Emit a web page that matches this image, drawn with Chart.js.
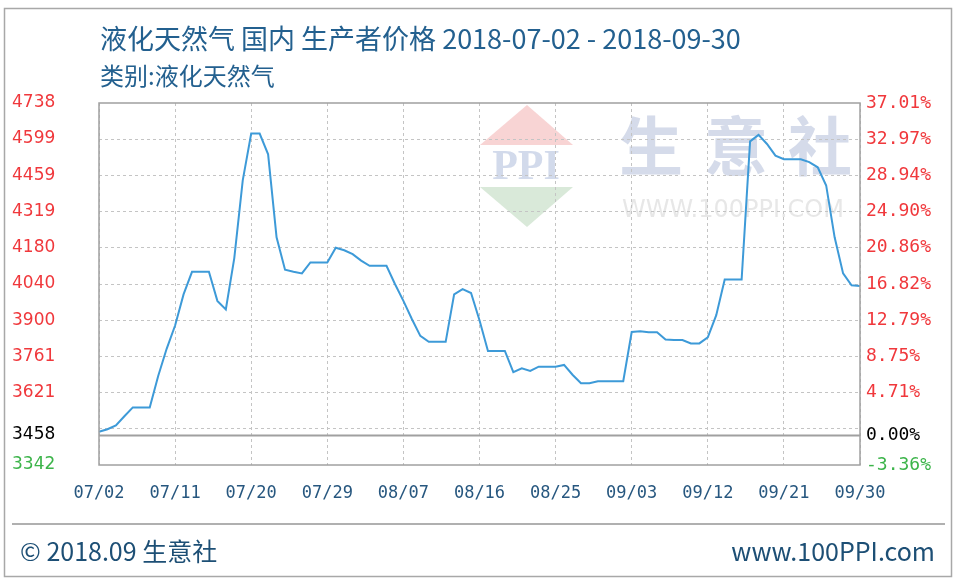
<!DOCTYPE html>
<html>
<head>
<meta charset="utf-8">
<script src="https://cdn.jsdelivr.net/npm/chart.js@4"></script>
<style>
  html, body { margin: 0; padding: 0; background: #fff; }
  canvas { display: block; }
</style>
</head>
<body>
<canvas id="lng-chart" width="956" height="581"></canvas>
<script>
// daily LNG producer price, 2018-07-02 .. 2018-09-30
var prices = [
  3470, 3480, 3495, 3530, 3564, 3564, 3564, 3685, 3790, 3880,
  4000, 4087, 4087, 4087, 3975, 3942, 4140, 4440, 4620, 4620,
  4540, 4220, 4095, 4087, 4081, 4123, 4123, 4123, 4180, 4170,
  4155, 4130, 4110, 4110, 4110, 4040, 3975, 3905, 3840, 3817,
  3817, 3817, 4000, 4020, 4005, 3900, 3782, 3782, 3782, 3700,
  3715, 3705, 3721, 3721, 3721, 3728, 3690, 3657, 3657, 3665,
  3665, 3665, 3665, 3855, 3858, 3854, 3854, 3826, 3824, 3824,
  3811, 3811, 3834, 3920, 4057, 4057, 4057, 4590, 4615, 4580,
  4535, 4521, 4521, 4521, 4510, 4490, 4420, 4220, 4081, 4035,
  4032
];

var x_tick_labels = ["07/02", "07/11", "07/20", "07/29", "08/07", "08/16",
  "08/25", "09/03", "09/12", "09/21", "09/30"];

var y_tick_values = [3342, 3458, 3482, 3621, 3761, 3900, 4040, 4180, 4319, 4459, 4599, 4738];
var y_tick_labels = ["3342", "3458", "", "3621", "3761", "3900", "4040", "4180", "4319", "4459", "4599", "4738"];
var pct_tick_labels = ["-3.36%", "0.00%", "", "4.71%", "8.75%", "12.79%", "16.82%", "20.86%",
  "24.90%", "28.94%", "32.97%", "37.01%"];

var base_price = 3458;
var y_min = 3342;
var y_max = 4738;

// one label per day
var dates = [];
var d0 = new Date(2018, 6, 2);
for (var i = 0; i < prices.length; i++) {
  var d = new Date(d0.getFullYear(), d0.getMonth(), d0.getDate() + i);
  dates.push(("0" + (d.getMonth() + 1)).slice(-2) + "/" + ("0" + d.getDate()).slice(-2));
}

var cjk = '"Noto Sans CJK SC", "Noto Sans", sans-serif';

function tick_color(ctx) {
  if (ctx.tick.value === base_price) return "#000000";
  if (ctx.tick.value === y_min) return "#3cb44a";
  return "#f0383c";
}

var decor = {
  id: "decor",
  beforeDraw(chart) {
    var c = chart.ctx;
    c.save();
    c.fillStyle = "#ffffff";
    c.fillRect(0, 0, chart.width, chart.height);

    // watermark
    c.fillStyle = "rgba(240,160,160,0.45)";
    c.beginPath(); c.moveTo(527, 105); c.lineTo(573, 145); c.lineTo(480, 145); c.closePath(); c.fill();
    c.fillStyle = "rgba(160,200,160,0.4)";
    c.beginPath(); c.moveTo(480, 187); c.lineTo(573, 187); c.lineTo(527, 227); c.closePath(); c.fill();
    c.fillStyle = "rgba(165,182,215,0.5)";
    c.font = "bold 42px 'Liberation Serif', serif";
    c.textAlign = "center"; c.textBaseline = "middle";
    c.fillText("PPI", 526, 168);
    c.fillStyle = "rgba(185,195,220,0.6)";
    c.font = "bold 64px " + cjk;
    c.fillText("生", 651, 146);
    c.fillText("意", 736, 146);
    c.fillText("社", 820, 146);
    c.fillStyle = "rgba(215,215,215,0.6)";
    c.font = "24px 'DejaVu Sans'";
    c.fillText("WWW.100PPI.COM", 733, 211);

    // outer frame
    c.strokeStyle = "#a8a8a8";
    c.lineWidth = 1.5;
    c.strokeRect(4.5, 8.5, 947, 568);

    // titles
    c.textAlign = "left";
    c.fillStyle = "#23608f";
    c.font = "27px " + cjk;
    c.fillText("液化天然气 国内 生产者价格 2018-07-02 - 2018-09-30", 100, 39);
    c.font = "24px " + cjk;
    c.fillText("类别:液化天然气", 100, 76);

    // footer
    c.strokeStyle = "#b0b0b0";
    c.lineWidth = 2;
    c.beginPath(); c.moveTo(12, 524); c.lineTo(945, 524); c.stroke();
    c.fillStyle = "#1d4f75";
    c.font = "25px " + cjk;
    c.fillText("© 2018.09 生意社", 20, 551);
    c.textAlign = "right";
    c.fillText("www.100PPI.com", 935, 551);
    c.restore();
  },
  afterDatasetsDraw(chart) {
    var c = chart.ctx;
    var a = chart.chartArea;
    var yb = Math.round(chart.scales.y.getPixelForValue(base_price)) + 0.5;
    c.save();
    c.strokeStyle = "#a0a0a0";
    c.lineWidth = 2;
    c.beginPath(); c.moveTo(a.left, yb); c.lineTo(a.right, yb); c.stroke();
    c.lineWidth = 1.5;
    c.strokeRect(a.left, a.top, a.right - a.left, a.bottom - a.top);
    c.restore();
  }
};

new Chart(document.getElementById("lng-chart"), {
  type: "line",
  data: {
    labels: dates,
    datasets: [{
      data: prices,
      borderColor: "#3d9ad8",
      borderWidth: 2,
      pointRadius: 0,
      tension: 0,
      yAxisID: "y",
    }],
  },
  options: {
    responsive: false,
    animation: false,
    devicePixelRatio: 1,
    layout: { padding: { left: 12, right: 0, top: 103, bottom: 66 } },
    plugins: { legend: { display: false }, tooltip: { enabled: false } },
    scales: {
      x: {
        type: "category",
        offset: false,
        grid: { color: "#c4c4c4", drawTicks: false },
        border: { display: false, dash: [3, 3] },
        ticks: {
          autoSkip: false,
          maxRotation: 0,
          padding: 18,
          color: "#27577f",
          font: { family: "DejaVu Sans Mono", size: 17 },
          callback: function (v, i) {
            return i % 9 === 0 ? x_tick_labels[i / 9] : null;
          },
        },
        afterFit: function (s) { s.height = 50; },
      },
      y: {
        position: "left",
        min: y_min,
        max: y_max,
        afterBuildTicks: function (s) { s.ticks = y_tick_values.map(function (v) { return { value: v }; }); },
        grid: {
          drawTicks: false,
          color: function (ctx) {
            var v = ctx.tick && ctx.tick.value;
            return (v === y_min || v === base_price || v === y_max) ? "rgba(0,0,0,0)" : "#c4c4c4";
          },
        },
        border: { display: false, dash: [3, 3] },
        ticks: {
          crossAlign: "far",
          color: tick_color,
          font: { family: "DejaVu Sans", size: 17 },
          callback: function (v, i) { return y_tick_labels[i]; },
        },
        afterFit: function (s) { s.width = 87; },
      },
      y2: {
        position: "right",
        min: y_min,
        max: y_max,
        afterBuildTicks: function (s) { s.ticks = y_tick_values.map(function (v) { return { value: v }; }); },
        grid: { display: false, drawTicks: false },
        border: { display: false },
        ticks: {
          padding: 6,
          color: tick_color,
          font: { family: "DejaVu Sans Mono", size: 18 },
          callback: function (v, i) { return pct_tick_labels[i]; },
        },
        afterFit: function (s) { s.width = 96; },
      },
    },
  },
  plugins: [decor],
});
</script>
</body>
</html>
